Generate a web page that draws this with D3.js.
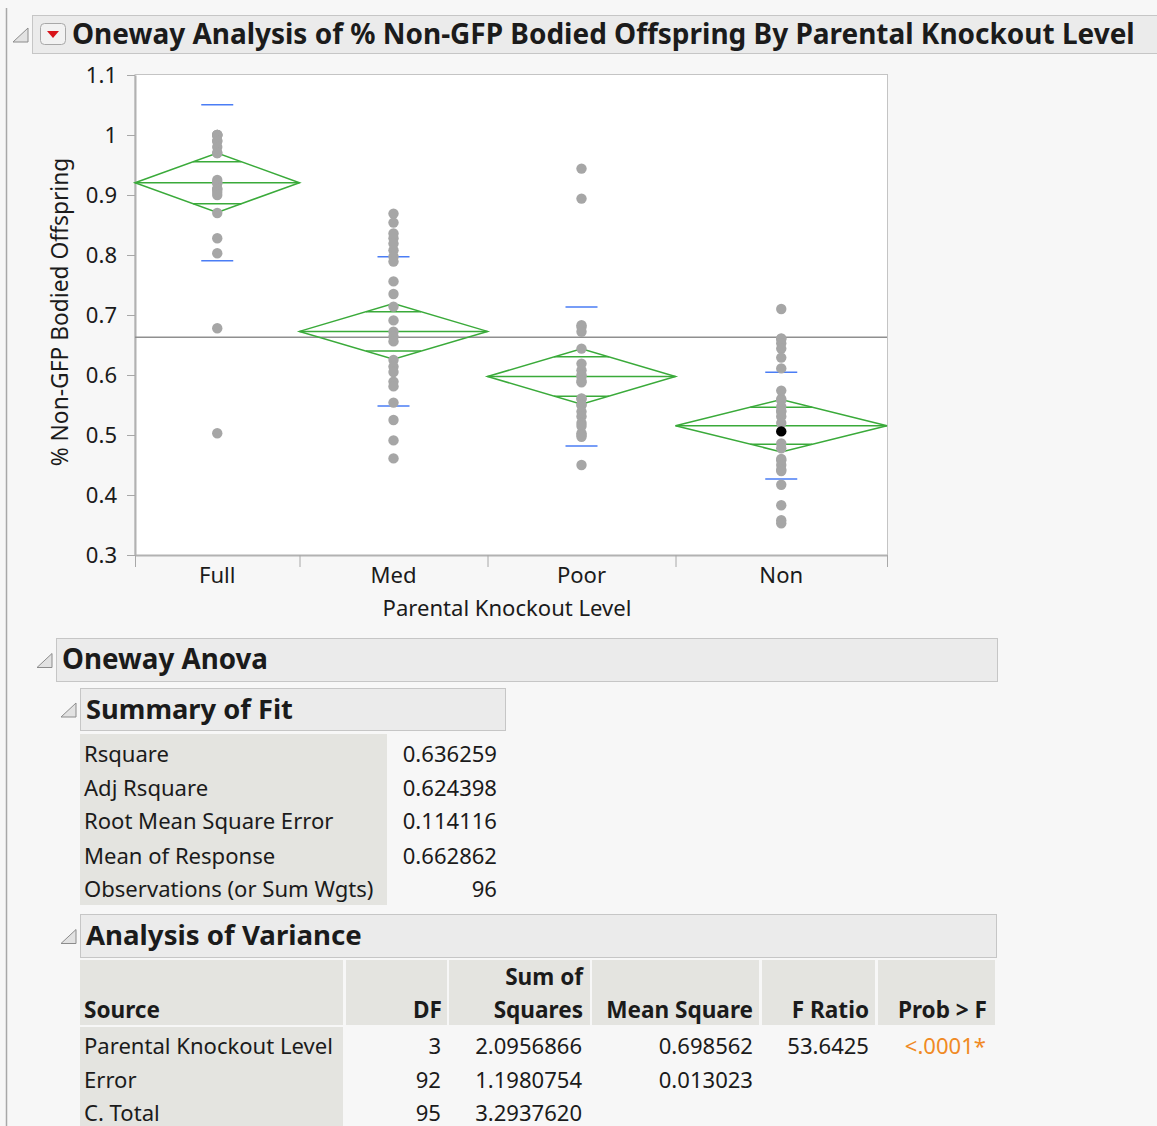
<!DOCTYPE html>
<html>
<head>
<meta charset="utf-8">
<script src="https://cdn.jsdelivr.net/npm/d3@7"></script>
<style>
  body { margin: 0; background: #f7f7f7; }
  svg text { font-family: "Noto Sans", "Open Sans", sans-serif; fill: #1b1b1b; }
</style>
</head>
<body>
<svg id="chart"></svg>
<script>
// ---- data ----
const groups = ["Full", "Med", "Poor", "Non"];
const groupCounts = [21, 24, 24, 27];
const fullValues = [1.0, 1.0, 1.0, 1.0, 0.99, 0.99, 0.98, 0.97, 0.97, 0.925, 0.92, 0.92, 0.91, 0.91, 0.905, 0.90, 0.87, 0.828, 0.803, 0.678, 0.503];
const medValues = [0.869, 0.854, 0.836, 0.828, 0.819, 0.808, 0.797, 0.789, 0.756, 0.735, 0.714, 0.691, 0.672, 0.664, 0.656, 0.625, 0.614, 0.605, 0.589, 0.581, 0.554, 0.525, 0.491, 0.461];
const poorValues = [0.944, 0.894, 0.683, 0.68, 0.672, 0.644, 0.619, 0.608, 0.60, 0.597, 0.59, 0.588, 0.561, 0.56, 0.55, 0.55, 0.539, 0.531, 0.52, 0.515, 0.503, 0.50, 0.497, 0.45];
const nonValues = [0.71, 0.661, 0.66, 0.653, 0.644, 0.629, 0.611, 0.574, 0.56, 0.558, 0.547, 0.54, 0.539, 0.531, 0.52, 0.506, 0.486, 0.478, 0.46, 0.458, 0.45, 0.442, 0.44, 0.417, 0.383, 0.358, 0.353];
const groupMeans = [0.9205, 0.6727, 0.5975, 0.5155];
const groupStdDevs = [0.1300, 0.1245, 0.1160, 0.0890];
const grandMean = 0.662862;
const rootMSE = 0.114116;
const tCrit = 1.9861;
const selectedPoint = { group: "Non", value: 0.506 };
const yTicks = [0.3, 0.4, 0.5, 0.6, 0.7, 0.8, 0.9, 1.0, 1.1];
const yTickLabels = ["0.3", "0.4", "0.5", "0.6", "0.7", "0.8", "0.9", "1", "1.1"];

const fitLabels = ["Rsquare", "Adj Rsquare", "Root Mean Square Error", "Mean of Response", "Observations (or Sum Wgts)"];
const fitValues = ["0.636259", "0.624398", "0.114116", "0.662862", "96"];

const anovaSources = ["Parental Knockout Level", "Error", "C. Total"];
const anovaDF = ["3", "92", "95"];
const anovaSS = ["2.0956866", "1.1980754", "3.2937620"];
const anovaMS = ["0.698562", "0.013023", ""];
const anovaF = ["53.6425", "", ""];
const anovaProb = ["<.0001*", "", ""];

const groupValues = [fullValues, medValues, poorValues, nonValues];

// ---- layout ----
const W = 1157, H = 1126;
const plot = { left: 135, right: 887, top: 74, bottom: 555 };

const svg = d3.select("#chart").attr("width", W).attr("height", H);
svg.append("rect").attr("width", W).attr("height", H).attr("fill", "#f7f7f7");
svg.append("line").attr("x1", 6.5).attr("x2", 6.5).attr("y1", 8).attr("y2", H)
  .attr("stroke", "#a8a8a8").attr("stroke-width", 1.5);

// font size that makes a text about `width` px wide
function fitSize(text, width, weight) {
  const t = svg.append("text").style("font-size", "100px").style("font-weight", weight || "normal").text(text);
  const s = 100 * width / t.node().getComputedTextLength();
  t.remove();
  return s;
}
const baseFont = fitSize("Parental Knockout Level", 249);
const boldFont = fitSize("Mean Square", 147, "bold");

function disclosure(x, y) {
  svg.append("path")
    .attr("d", `M${x},${y + 14} L${x + 15},${y} L${x + 15},${y + 14} Z`)
    .attr("fill", "#e2e2e2").attr("stroke", "#8c8c8c").attr("stroke-width", 1);
}

function header(x0, x1, y0, y1, label, textX, textW, triX) {
  svg.append("rect").attr("x", x0 + 0.5).attr("y", y0 + 0.5).attr("width", x1 - x0).attr("height", y1 - y0)
    .attr("fill", "#ebebeb").attr("stroke", "#c6c6c6");
  disclosure(triX, (y0 + y1) / 2 - 6);
  svg.append("text").attr("x", textX).attr("y", (y0 + y1) / 2).attr("dy", "0.36em")
    .style("font-weight", "bold").style("font-size", fitSize(label, textW, "bold") + "px")
    .text(label);
}

// title header with red menu button
header(32, 1160, 15, 53, "Oneway Analysis of % Non-GFP Bodied Offspring By Parental Knockout Level", 72, 1063, 13);
svg.append("rect").attr("x", 40.5).attr("y", 23.5).attr("width", 25).attr("height", 21).attr("rx", 4)
  .attr("fill", "#f2f2f2").attr("stroke", "#a8a8a8");
svg.append("path").attr("d", "M47,31 L59,31 L53,38 Z").attr("fill", "#d8141a");

// ---- scales ----
const bounds = d3.cumsum([0, ...groupCounts]);
const xPos = d3.scaleLinear().domain([0, d3.sum(groupCounts)]).range([plot.left, plot.right]);
const y = d3.scaleLinear().domain([0.3, 1.1]).range([plot.bottom, plot.top + 1]);
const gx0 = i => xPos(bounds[i]);
const gx1 = i => xPos(bounds[i + 1]);
const gxc = i => (gx0(i) + gx1(i)) / 2;

svg.append("rect").attr("x", plot.left).attr("y", plot.top + 0.5)
  .attr("width", plot.right - plot.left + 0.5).attr("height", plot.bottom - plot.top)
  .attr("fill", "#fff").attr("stroke", "#c4c4c4");

// y axis
const yAxis = svg.append("g").attr("transform", `translate(${plot.left},0)`)
  .call(d3.axisLeft(y).tickValues(yTicks).tickFormat((d, i) => yTickLabels[i])
    .tickSize(8).tickSizeOuter(0).tickPadding(10));
yAxis.select(".domain").attr("stroke", "#b2b2b2").attr("stroke-width", 2);
yAxis.selectAll(".tick line").attr("stroke", "#a8a8a8");
yAxis.selectAll(".tick text").style("font-size", baseFont + "px").style("font-family", null).attr("fill", "#222");

const yTitle = "% Non-GFP Bodied Offspring";
svg.append("text").attr("transform", `translate(60,${312}) rotate(-90)`)
  .attr("text-anchor", "middle").attr("dy", "0.36em").style("font-size", fitSize(yTitle, 309) + "px")
  .text(yTitle);

// x axis
const xAxis = svg.append("g").attr("transform", `translate(0,${plot.bottom})`)
  .call(d3.axisBottom(xPos).tickValues(bounds).tickFormat("").tickSize(12).tickSizeOuter(0));
xAxis.select(".domain").attr("stroke", "#b2b2b2").attr("stroke-width", 2);
xAxis.selectAll(".tick line").attr("stroke", "#a8a8a8");

svg.selectAll(".xlab").data(groups).enter().append("text")
  .attr("x", (d, i) => gxc(i)).attr("y", 575).attr("dy", "0.36em")
  .attr("text-anchor", "middle").style("font-size", baseFont + "px").text(d => d);

svg.append("text").attr("x", 507).attr("y", 608).attr("dy", "0.36em")
  .attr("text-anchor", "middle").style("font-size", baseFont + "px").text("Parental Knockout Level");

// grand mean
svg.append("line").attr("x1", plot.left).attr("x2", plot.right)
  .attr("y1", y(grandMean)).attr("y2", y(grandMean))
  .attr("stroke", "#8f8f8f").attr("stroke-width", 1.5);

// means diamonds
const green = "#3aaa3a";
groups.forEach((g, i) => {
  const m = groupMeans[i];
  const half = tCrit * rootMSE / Math.sqrt(groupCounts[i]);
  const x0 = gx0(i), x1 = gx1(i), xc = gxc(i);
  const dg = svg.append("g").attr("fill", "none").attr("stroke", green).attr("stroke-width", 1.5);
  dg.append("path").attr("d",
    `M${x0},${y(m)} L${xc},${y(m + half)} L${x1},${y(m)} L${xc},${y(m - half)} Z`);
  dg.append("line").attr("x1", x0).attr("x2", x1).attr("y1", y(m)).attr("y2", y(m));
  const ov = half * Math.SQRT2 / 2;
  const hw = (x1 - x0) / 2 * (1 - Math.SQRT2 / 2);
  [m + ov, m - ov].forEach(v => {
    dg.append("line").attr("x1", xc - hw).attr("x2", xc + hw).attr("y1", y(v)).attr("y2", y(v));
  });
  // std dev lines
  [m + groupStdDevs[i], m - groupStdDevs[i]].forEach(v => {
    svg.append("line").attr("x1", xc - 16).attr("x2", xc + 16).attr("y1", y(v)).attr("y2", y(v))
      .attr("stroke", "#4a7df5").attr("stroke-width", 1.5);
  });
});

// points
groups.forEach((g, i) => {
  svg.append("g").selectAll("circle").data(groupValues[i]).enter().append("circle")
    .attr("cx", gxc(i)).attr("cy", d => y(d)).attr("r", 5.2)
    .attr("fill", d => (g === selectedPoint.group && d === selectedPoint.value) ? "#000" : "#a6a6a6");
});

// ---- Oneway Anova ----
header(56, 997, 638, 681, "Oneway Anova", 62, 206, 37);
header(80, 505, 688, 730, "Summary of Fit", 86, 207, 61);

svg.append("rect").attr("x", 80).attr("y", 734).attr("width", 307).attr("height", 171).attr("fill", "#e4e4e0");
const fitRowsY = [754, 788, 821, 856, 889];
fitLabels.forEach((l, i) => {
  svg.append("text").attr("x", 84).attr("y", fitRowsY[i]).attr("dy", "0.36em")
    .style("font-size", baseFont + "px").text(l);
  svg.append("text").attr("x", 497).attr("y", fitRowsY[i]).attr("dy", "0.36em")
    .attr("text-anchor", "end").style("font-size", baseFont + "px").text(fitValues[i]);
});

header(80, 996, 914, 957, "Analysis of Variance", 86, 276, 61);

const cols = [[80, 343], [346, 447], [449, 590], [592, 759], [762, 875], [878, 995]];
cols.forEach(c => {
  svg.append("rect").attr("x", c[0]).attr("y", 960).attr("width", c[1] - c[0]).attr("height", 65).attr("fill", "#e4e4e0");
});
svg.append("rect").attr("x", 80).attr("y", 1027).attr("width", 263).attr("height", H - 1027).attr("fill", "#e4e4e0");

const hdr = (x, yy, t, anchor) => svg.append("text").attr("x", x).attr("y", yy).attr("dy", "0.36em")
  .attr("text-anchor", anchor).style("font-weight", "bold").style("font-size", boldFont + "px").text(t);
hdr(84, 1010, "Source", "start");
hdr(442, 1010, "DF", "end");
hdr(583, 977, "Sum of", "end");
hdr(583, 1010, "Squares", "end");
hdr(753, 1010, "Mean Square", "end");
hdr(869, 1010, "F Ratio", "end");
hdr(987, 1010, "Prob > F", "end");

const rowsY = [1046, 1080, 1113];
const cell = (x, yy, t, anchor, color) => svg.append("text").attr("x", x).attr("y", yy).attr("dy", "0.36em")
  .attr("text-anchor", anchor).style("font-size", baseFont + "px").style("fill", color || null).text(t);
anovaSources.forEach((s, i) => {
  cell(84, rowsY[i], s, "start");
  cell(441, rowsY[i], anovaDF[i], "end");
  cell(582, rowsY[i], anovaSS[i], "end");
  cell(753, rowsY[i], anovaMS[i], "end");
  cell(869, rowsY[i], anovaF[i], "end");
  cell(986, rowsY[i], anovaProb[i], "end", "#f08a24");
});
</script>
</body>
</html>
